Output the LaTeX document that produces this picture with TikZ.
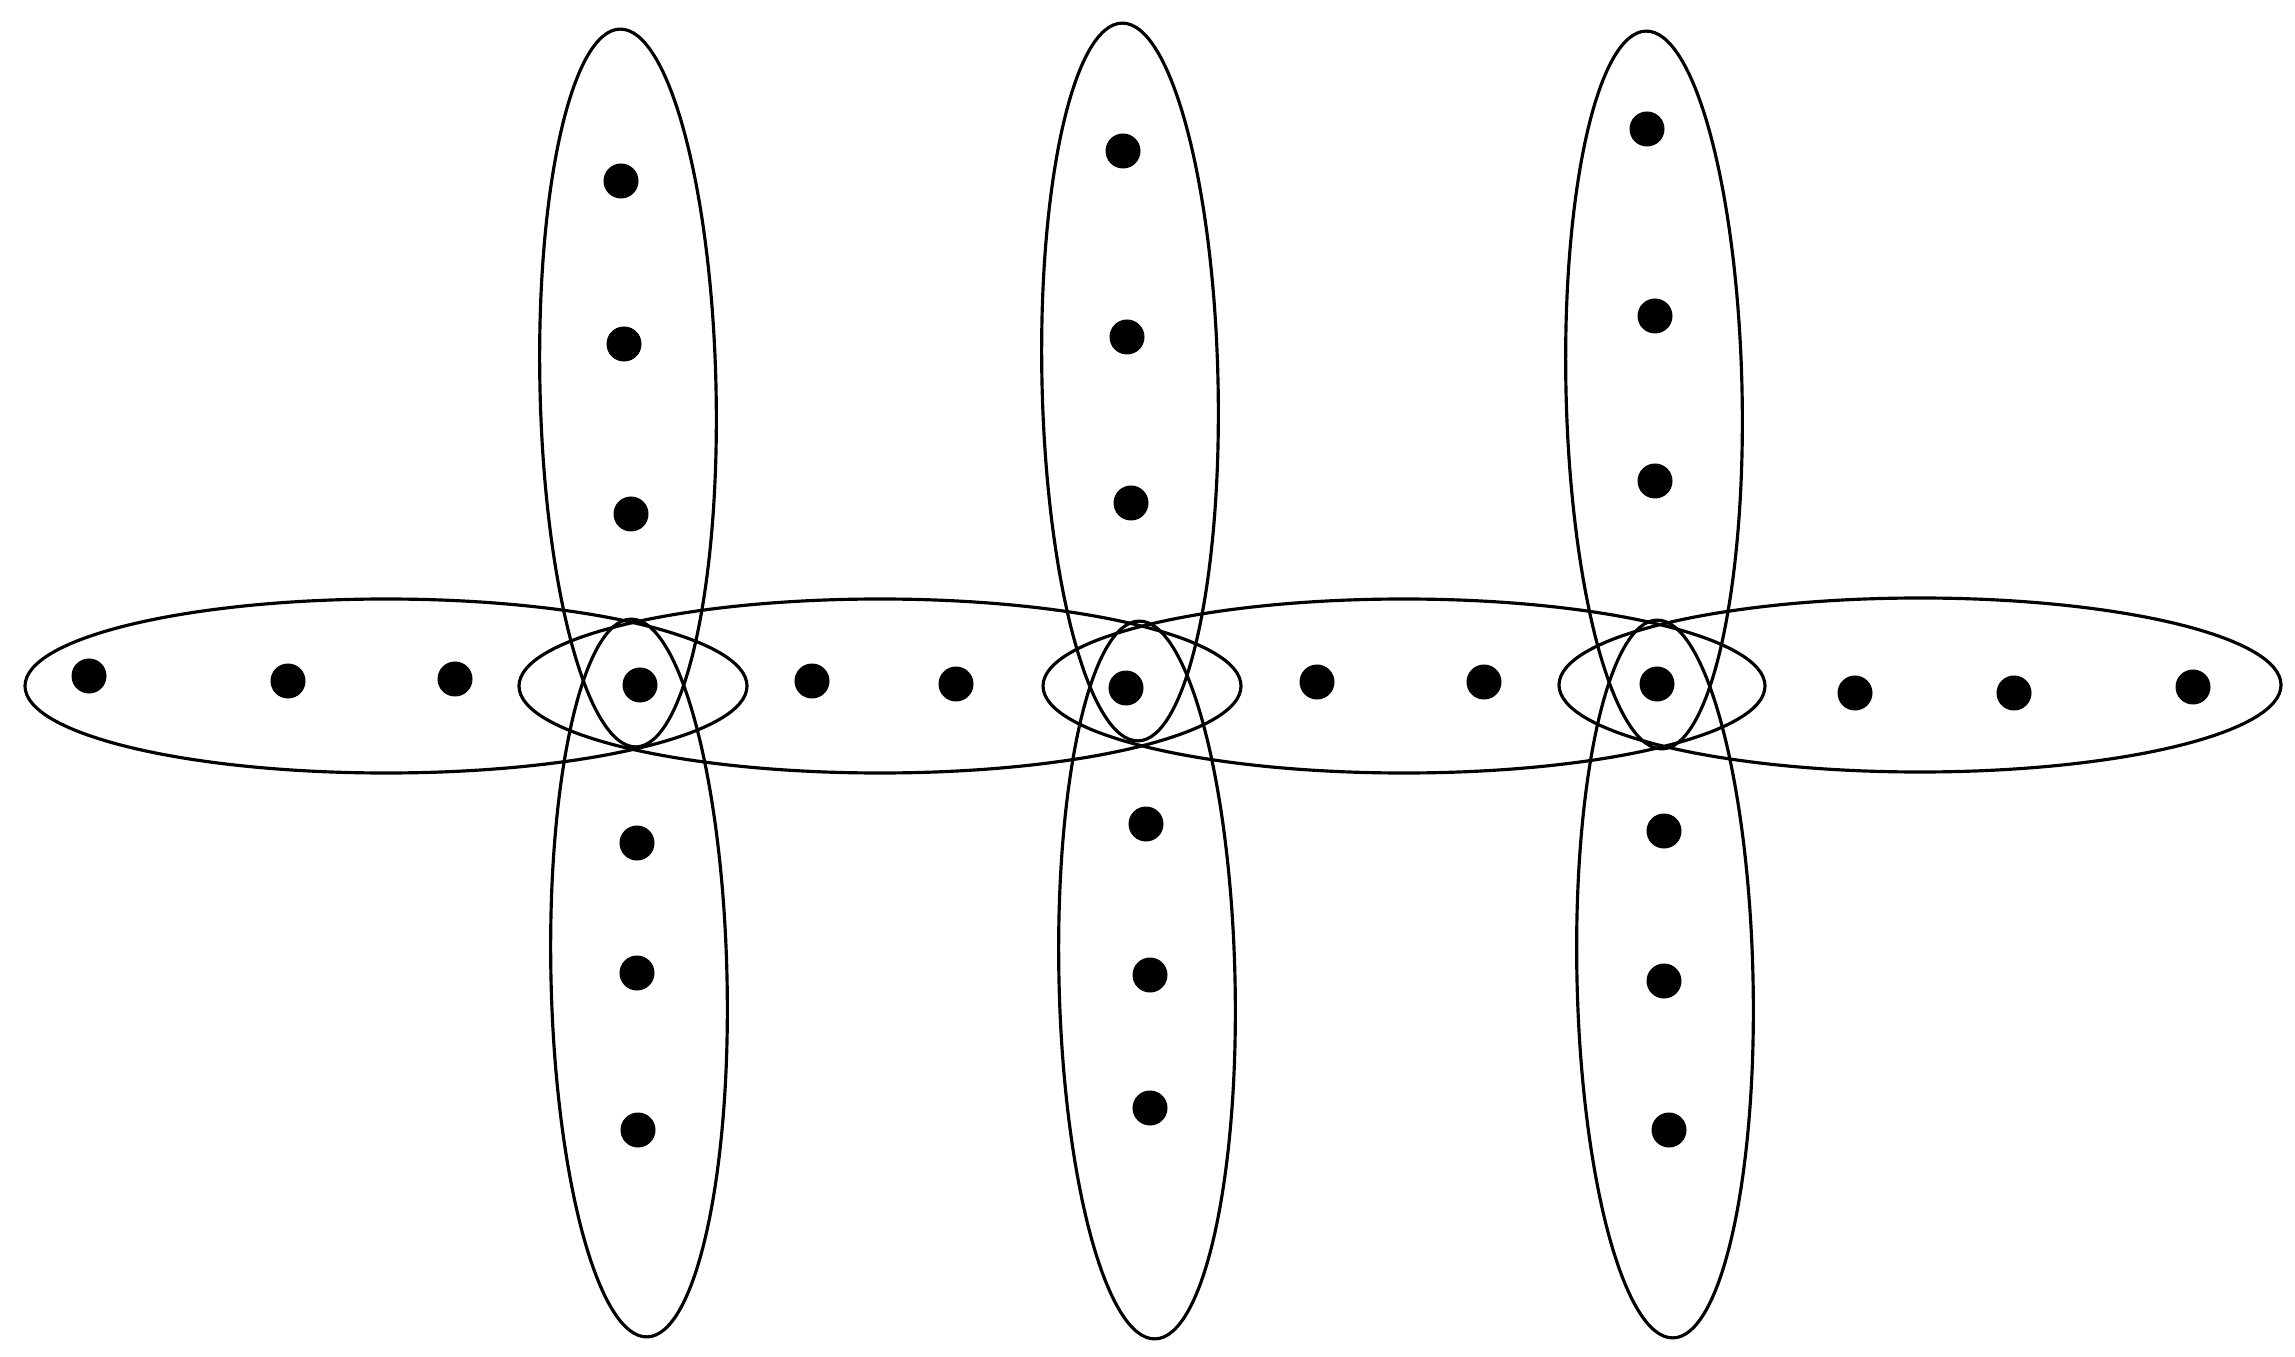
\documentclass[tikz,border=0pt]{standalone}
\usepackage{tikz}
\usetikzlibrary{shapes,arrows.meta}

\begin{document}
\begin{tikzpicture}
		\useasboundingbox (0,0) rectangle (22.95,13.56);
		\begin{scope}
            [
                every node/.style={inner sep=0pt, outer sep=0pt},
				hedge/.style = {draw=black, ellipse, line width=0.9pt},
				hrow/.style = {hedge, minimum width=7.22cm, minimum height=1.74cm},
				vcol/.style = {hedge, minimum width=1.76cm, minimum height=7.18cm, rotate=1.3}
            ]
            % horizontal edges
			\node[hrow](e1) at (3.86,6.70) {};
			\node[hrow](e2) at (8.80,6.70) {};
			\node[hrow](e3) at (14.04,6.70) {};
			\node[hrow](e4) at (19.20,6.71) {};
            % vertical edges
			\node[vcol](e5) at (6.28,9.68) {};
			\node[vcol](e6) at (6.39,3.78) {};
			\node[vcol](e7) at (11.30,9.74) {};
			\node[vcol](e8) at (11.47,3.76) {};
			\node[vcol](e9) at (16.54,9.66) {};
			\node[vcol](e10) at (16.65,3.77) {};
		\end{scope}
		\begin{scope}
            [
                every node/.style={circle, fill=black, minimum size=0.35cm, inner sep=0pt}
            ]
            % middle row
			\node(h1) at (0.89,6.80) {};
			\node(h2) at (2.88,6.75) {};
			\node(h3) at (4.55,6.77) {};
			\node(x1) at (6.40,6.71) {};
			\node(h4) at (8.12,6.75) {};
			\node(h5) at (9.56,6.72) {};
			\node(x2) at (11.26,6.68) {};
			\node(h6) at (13.17,6.74) {};
			\node(h7) at (14.84,6.74) {};
			\node(x3) at (16.57,6.72) {};
			\node(h8) at (18.55,6.63) {};
			\node(h9) at (20.14,6.63) {};
			\node(h10) at (21.93,6.69) {};
            % first column
			\node(a1) at (6.21,11.75) {};
			\node(a2) at (6.24,10.12) {};
			\node(a3) at (6.31,8.42) {};
			\node(a4) at (6.37,5.13) {};
			\node(a5) at (6.37,3.83) {};
			\node(a6) at (6.38,2.26) {};
            % second column
			\node(b1) at (11.23,12.05) {};
			\node(b2) at (11.27,10.19) {};
			\node(b3) at (11.31,8.53) {};
			\node(b4) at (11.46,5.32) {};
			\node(b5) at (11.50,3.81) {};
			\node(b6) at (11.50,2.48) {};
            % third column
			\node(c1) at (16.47,12.27) {};
			\node(c2) at (16.55,10.40) {};
			\node(c3) at (16.55,8.75) {};
			\node(c4) at (16.64,5.25) {};
			\node(c5) at (16.64,3.75) {};
			\node(c6) at (16.69,2.26) {};
		\end{scope}
    \end{tikzpicture}
\end{document}
